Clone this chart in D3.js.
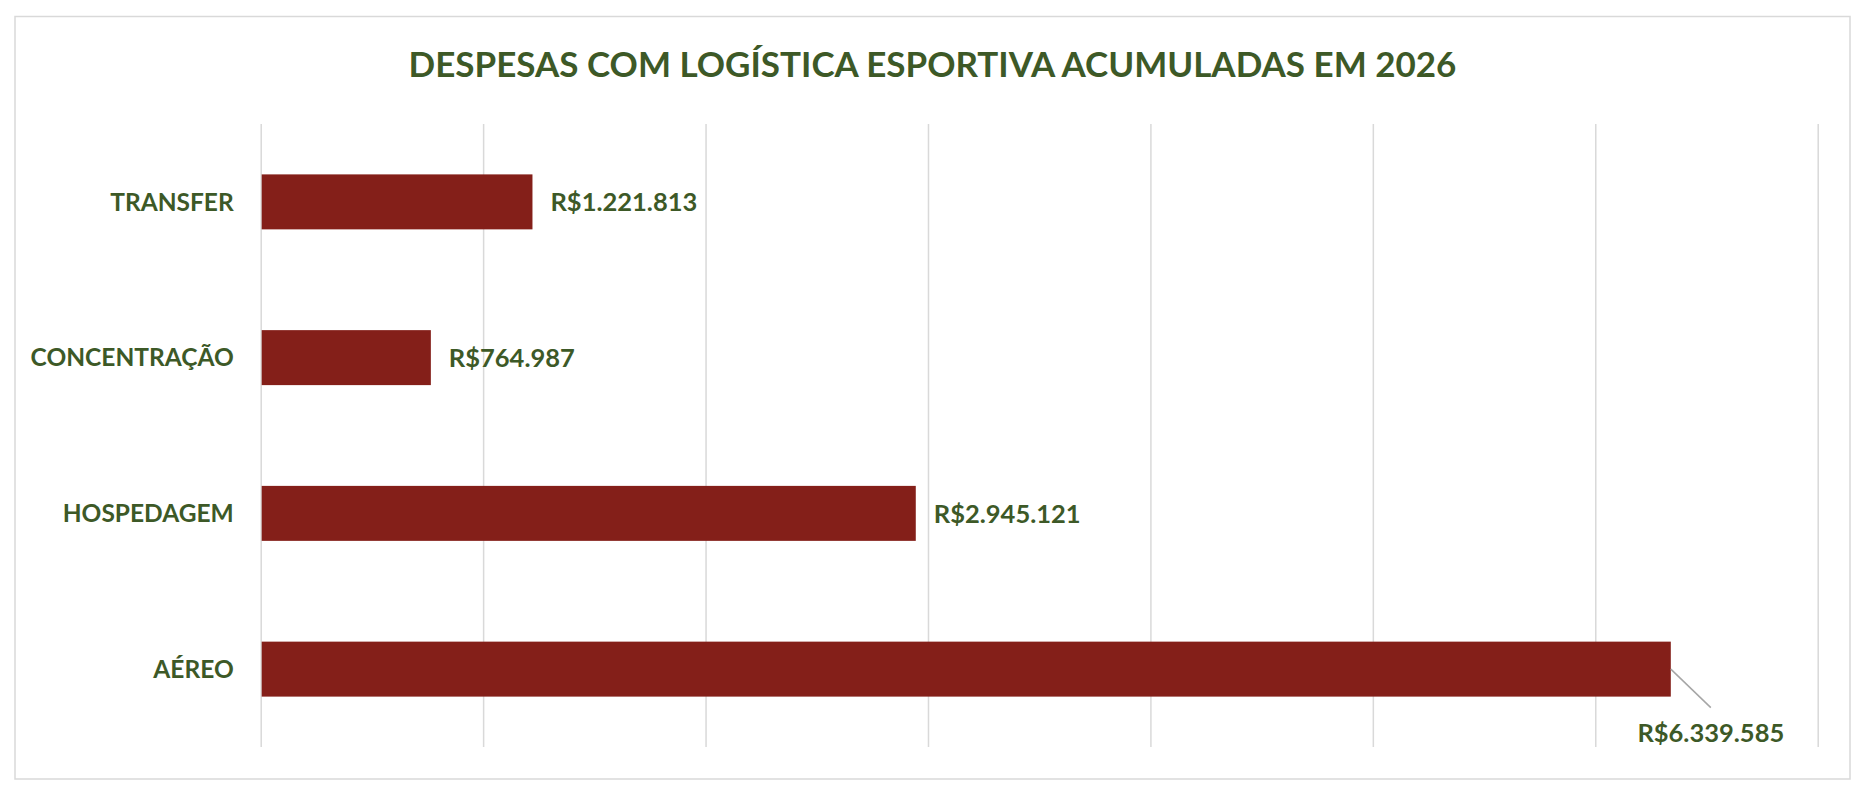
<!DOCTYPE html>
<html>
<head>
<meta charset="utf-8">
<script src="https://cdn.jsdelivr.net/npm/d3@7"></script>
<style>
  html, body { margin: 0; padding: 0; background: #fff; }
  svg { display: block; }
  text { font-family: Lato, "Open Sans", sans-serif; font-weight: 700; fill: #3d5927; }
</style>
</head>
<body>
<div id="chart"></div>
<script>
// data
const categories = ['TRANSFER', 'CONCENTRAÇÃO', 'HOSPEDAGEM', 'AÉREO'];
const values = [1221813, 764987, 2945121, 6339585];
const xTicks = [0, 1000000, 2000000, 3000000, 4000000, 5000000, 6000000, 7000000];
const title = 'DESPESAS COM LOGÍSTICA ESPORTIVA ACUMULADAS EM 2026';

const W = 1866, H = 792;
const frame = {x: 15, y: 16.5, w: 1835, h: 762.5};
const plot = {left: 260.7, right: 1817.7, top: 124, bottom: 747};

const barColor = '#841f19';
const gridColor = '#d9d9d9';

// pt-BR style money: R$1.221.813
const money = d => 'R$' + d3.format(',')(d).replace(/,/g, '.');

const svg = d3.select('#chart')
  .append('svg')
    .attr('width', W)
    .attr('height', H);

svg.append('rect')
  .attr('x', frame.x)
  .attr('y', frame.y)
  .attr('width', frame.w)
  .attr('height', frame.h)
  .attr('fill', '#fff')
  .attr('stroke', gridColor)
  .attr('stroke-width', 1.5);

const x = d3.scaleLinear()
  .domain([xTicks[0], xTicks[xTicks.length - 1]])
  .range([plot.left, plot.right]);

const y = d3.scaleBand()
  .domain(categories)
  .range([plot.top, plot.bottom])
  .paddingInner(0.647)
  .paddingOuter(0.3235);

// vertical gridlines (axis without labels)
const grid = svg.append('g')
  .attr('transform', `translate(0,${plot.bottom})`)
  .call(d3.axisBottom(x)
    .tickValues(xTicks)
    .tickSize(-(plot.bottom - plot.top))
    .tickFormat(''));
grid.select('.domain').remove();
grid.selectAll('.tick line')
  .attr('stroke', gridColor)
  .attr('stroke-width', 1.5);

// category labels
const yAxis = svg.append('g')
  .attr('transform', `translate(${plot.left},0)`)
  .call(d3.axisLeft(y).tickSize(0).tickPadding(27));
yAxis.select('.domain').remove();
yAxis.selectAll('.tick text')
  .attr('font-family', null)
  .attr('font-size', null)
  .style('font-size', '24.5px')
  .attr('fill', null)
  .attr('dy', '0.36em');

const rows = categories.map((c, i) => ({cat: c, value: values[i]}));

svg.append('g')
  .selectAll('rect')
  .data(rows)
  .enter()
  .append('rect')
    .attr('x', x(0) + 1)
    .attr('y', d => y(d.cat))
    .attr('width', d => x(d.value) - x(0) - 1)
    .attr('height', y.bandwidth())
    .attr('fill', barColor);

// value labels: outside end, or dropped below with a leader when no room
const labels = svg.append('g');
rows.forEach(d => {
  const end = x(d.value);
  const cy = y(d.cat) + y.bandwidth() / 2;
  const txt = labels.append('text')
    .style('font-size', '25.5px')
    .text(money(d.value));
  const len = txt.node().getComputedTextLength();
  if (end + 19 + len < plot.right) {
    txt.attr('x', end + 18).attr('y', cy).attr('dy', '0.36em');
  } else {
    const bottom = y(d.cat) + y.bandwidth();
    txt.attr('x', end + 40)
      .attr('y', bottom + 45)
      .attr('text-anchor', 'middle');
    labels.append('line')
      .attr('x1', end)
      .attr('y1', cy)
      .attr('x2', end + 40)
      .attr('y2', bottom + 11)
      .attr('stroke', '#a6a6a6')
      .attr('stroke-width', 1.5);
  }
});

svg.append('text')
  .attr('x', frame.x + frame.w / 2)
  .attr('y', 76.5)
  .attr('text-anchor', 'middle')
  .style('font-size', '35px')
  .text(title);
</script>
</body>
</html>
